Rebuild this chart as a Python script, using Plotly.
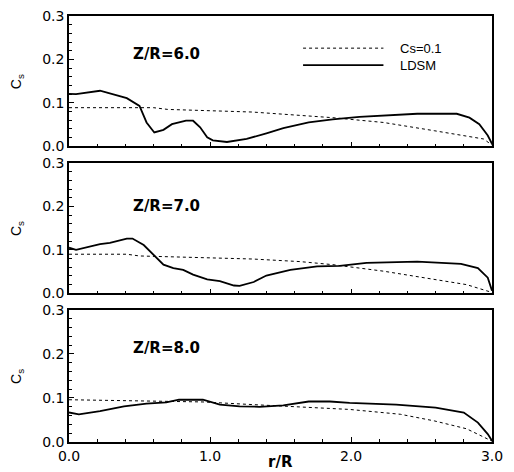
import plotly.graph_objects as go

# Panel 1: Z/R=6.0
r1_ldsm = [0.0, 0.05, 0.22, 0.41, 0.50, 0.55, 0.605, 0.67, 0.73, 0.83, 0.88, 0.93, 0.98, 1.02, 1.12, 1.26, 1.40, 1.52, 1.70, 1.87, 2.06, 2.28, 2.47, 2.75, 2.84, 2.91, 2.97, 3.0]
c1_ldsm = [0.121, 0.120, 0.128, 0.111, 0.093, 0.055, 0.032, 0.038, 0.051, 0.059, 0.059, 0.044, 0.021, 0.014, 0.010, 0.017, 0.030, 0.042, 0.055, 0.062, 0.068, 0.071, 0.075, 0.075, 0.066, 0.051, 0.025, 0.006]
r1_cs = [0.0, 0.6, 0.7, 1.30, 1.87, 2.23, 2.59, 2.80, 2.94, 3.0]
c1_cs = [0.089, 0.089, 0.085, 0.079, 0.066, 0.055, 0.036, 0.025, 0.017, 0.003]

# Panel 2: Z/R=7.0
r2_ldsm = [0.0, 0.05, 0.22, 0.29, 0.41, 0.45, 0.53, 0.61, 0.67, 0.74, 0.81, 0.88, 0.98, 1.07, 1.17, 1.21, 1.31, 1.40, 1.57, 1.76, 1.92, 2.11, 2.33, 2.47, 2.78, 2.90, 2.97, 3.0]
c2_ldsm = [0.105, 0.100, 0.113, 0.116, 0.126, 0.126, 0.111, 0.085, 0.066, 0.058, 0.054, 0.043, 0.032, 0.028, 0.018, 0.017, 0.026, 0.041, 0.054, 0.062, 0.063, 0.070, 0.072, 0.073, 0.068, 0.058, 0.036, 0.006]
r2_cs = [0.0, 0.41, 0.50, 1.30, 1.64, 1.87, 2.23, 2.59, 2.82, 3.0]
c2_cs = [0.090, 0.090, 0.086, 0.079, 0.073, 0.066, 0.051, 0.033, 0.020, 0.002]

# Panel 3: Z/R=8.0
r3_ldsm = [0.0, 0.07, 0.22, 0.39, 0.55, 0.69, 0.78, 0.95, 1.07, 1.21, 1.35, 1.52, 1.70, 1.85, 1.99, 2.32, 2.60, 2.80, 2.90, 2.97, 3.0]
c3_ldsm = [0.067, 0.063, 0.070, 0.081, 0.087, 0.090, 0.096, 0.096, 0.085, 0.081, 0.080, 0.083, 0.092, 0.092, 0.089, 0.085, 0.078, 0.067, 0.044, 0.018, 0.003]
r3_cs = [0.0, 0.55, 0.95, 1.30, 1.64, 1.99, 2.35, 2.59, 2.82, 3.0]
c3_cs = [0.096, 0.093, 0.091, 0.085, 0.080, 0.074, 0.063, 0.048, 0.030, 0.002]

panel_labels = ["Z/R=6.0", "Z/R=7.0", "Z/R=8.0"]
series_names = ["Cs=0.1", "LDSM"]
x_ticks = [0.0, 1.0, 2.0, 3.0]
x_ticktext = ["0.0", "1.0", "2.0", "3.0"]
y_ticks = [0.0, 0.1, 0.2, 0.3]
y_ticktext = ["0.0", "0.1", "0.2", "0.3"]

FONT = "Liberation Sans, Arial, sans-serif"
WIDE = "DejaVu Sans, sans-serif"
fig = go.Figure()

panels = [
    (r1_cs, c1_cs, r1_ldsm, c1_ldsm, "x", "y"),
    (r2_cs, c2_cs, r2_ldsm, c2_ldsm, "x2", "y2"),
    (r3_cs, c3_cs, r3_ldsm, c3_ldsm, "x3", "y3"),
]
for i, (rc, cc, rl, cl, xa, ya) in enumerate(panels):
    fig.add_trace(go.Scatter(x=rc, y=cc, mode="lines", xaxis=xa, yaxis=ya,
                             line=dict(color="black", width=1, dash="dot"),
                             showlegend=False))
    fig.add_trace(go.Scatter(x=rl, y=cl, mode="lines", xaxis=xa, yaxis=ya,
                             line=dict(color="black", width=1.8),
                             showlegend=False))

domains = [[0.694, 1.0], [0.349, 0.655], [0.0, 0.310]]
names = ["", "2", "3"]
layout = dict(
    width=514, height=472,
    margin=dict(l=69, r=22, t=8, b=29),
    paper_bgcolor="white", plot_bgcolor="white",
    font=dict(family=FONT, color="black", size=13),
    showlegend=False,
)
for i, n in enumerate(names):
    layout["xaxis" + n] = dict(
        domain=[0, 1], range=[0, 3], anchor="y" + n,
        showline=True, linecolor="black", linewidth=1.6, mirror=True,
        showgrid=False, zeroline=False,
        ticks="inside", ticklen=5, tickcolor="black",
        tickvals=x_ticks, ticktext=x_ticktext,
        showticklabels=(i == 2),
        tickfont=dict(family=WIDE, size=14),
        minor=dict(dtick=0.2, ticks="inside", ticklen=3, tickcolor="black", showgrid=False),
    )
    layout["yaxis" + n] = dict(
        domain=domains[i], range=[0, 0.3], anchor="x" + n,
        showline=True, linecolor="black", linewidth=1.6, mirror=True,
        showgrid=False, zeroline=False,
        ticks="inside", ticklen=5, tickcolor="black",
        tickvals=y_ticks, ticktext=y_ticktext,
        tickfont=dict(family=WIDE, size=14),
        minor=dict(dtick=0.02, ticks="inside", ticklen=3, tickcolor="black", showgrid=False),
    )
fig.update_layout(**layout)

label_y = [0.212, 0.201, 0.214]
for i, n in enumerate(names):
    fig.add_annotation(x=0.69, y=label_y[i], xref="x" + n, yref="y" + n,
                       text="<b>" + panel_labels[i] + "</b>", showarrow=False,
                       font=dict(family=WIDE, size=15), xanchor="center", yanchor="middle")
    dom = domains[i]
    fig.add_annotation(x=-0.123, y=(dom[0] + dom[1]) / 2, xref="paper", yref="paper",
                       text="C<sub>s</sub>", showarrow=False, textangle=-90,
                       font=dict(family=FONT, size=14), xanchor="center", yanchor="middle")

# legend drawn in top panel
leg_x0, leg_x1 = 1.66, 2.23
for j, (nm, dash, w) in enumerate([(series_names[0], "dot", 1), (series_names[1], "solid", 1.8)]):
    yv = 0.226 - j * 0.039
    fig.add_trace(go.Scatter(x=[leg_x0, leg_x1], y=[yv, yv], mode="lines", xaxis="x", yaxis="y",
                             line=dict(color="black", width=w, dash=dash), showlegend=False,
                             hoverinfo="skip"))
    fig.add_annotation(x=2.33, y=yv, xref="x", yref="y", text=nm, showarrow=False,
                       xanchor="left", yanchor="middle", font=dict(family=FONT, size=13))

fig.add_annotation(x=1.5, y=-(463 - 443) / 435.0, xref="x3", yref="paper", text="<b>r/R</b>",
                   showarrow=False, font=dict(family=WIDE, size=15), yanchor="middle")

fig.write_html("out.html", config={"displayModeBar": False},
               post_script="document.body.style.margin='0';")
